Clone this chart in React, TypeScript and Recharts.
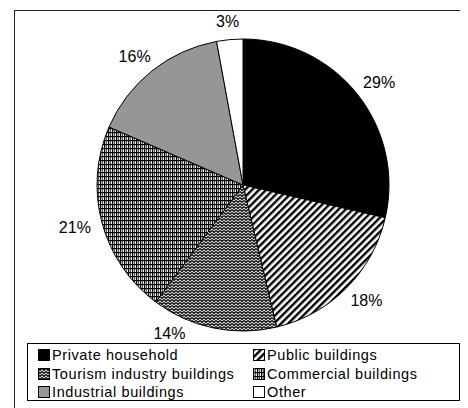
import React from "react";
import { PieChart, Pie, Cell, Legend } from "recharts";

const categories = [
  "Private household",
  "Public buildings",
  "Tourism industry buildings",
  "Commercial buildings",
  "Industrial buildings",
  "Other",
];
const shares = [28.6, 17.7, 13.9, 21.3, 15.6, 2.9];
const fills = [
  "#000000",
  "url(#patPublic)",
  "url(#patTourism)",
  "url(#patCommercial)",
  "#969696",
  "#ffffff",
];

const data = categories.map((name, i) => ({ name, value: shares[i] }));

const FONT = "'Liberation Sans', Arial, sans-serif";
const RAD = Math.PI / 180;
// angular nudge (degrees, clockwise) for labels that would collide with the legend
const labelAngleNudge = [0, 0, 13.3, 0, 0, 0];

const renderLabel = (props: any) => {
  const { cx, cy, midAngle, outerRadius, value, index } = props;
  const a = midAngle - (labelAngleNudge[index] || 0);
  const dx = Math.cos(-a * RAD);
  const dy = Math.sin(-a * RAD);
  const r = outerRadius + 12;
  const text = `${Math.round(value)}%`;
  const w = (text.length - 1) * 8.9 + 14.2;
  const x = cx + r * dx + dx * (w / 2);
  const y = cy + r * dy + dy * 6;
  return (
    <text
      x={x}
      y={y}
      textAnchor="middle"
      dominantBaseline="central"
      fontFamily={FONT}
      fontSize={16}
      fill="#000"
    >
      {text}
    </text>
  );
};

const LegendContent = () => (
  <div
    style={{
      width: 433,
      height: 58,
      border: "1px solid #000",
      boxSizing: "border-box",
      position: "relative",
      fontFamily: FONT,
      fontSize: 14.5,
      letterSpacing: 0.6,
      color: "#000",
      background: "#fff",
    }}
  >
    {categories.map((c, i) => {
      const col = i % 2;
      const row = Math.floor(i / 2);
      return (
        <div
          key={c}
          style={{
            position: "absolute",
            left: col === 0 ? 10 : 225,
            top: 2 + row * 18.5,
            height: 18,
            display: "flex",
            alignItems: "center",
            whiteSpace: "nowrap",
          }}
        >
          <svg width={12} height={12} style={{ marginRight: 2 }}>
            <rect x={0.5} y={0.5} width={11} height={11} fill={fills[i]} stroke="#000" strokeWidth={1} />
          </svg>
          <span>{c}</span>
        </div>
      );
    })}
  </div>
);

export default function App() {
  return (
    <div style={{ position: "relative", width: 460, height: 400, overflow: "hidden", background: "#fff" }}>
      <div
        style={{
          position: "absolute",
          left: 6,
          top: 2,
          width: 500,
          height: 500,
          borderLeft: "1px solid #222",
          borderTop: "1.5px solid #222",
        }}
      />
      <PieChart width={460} height={400} style={{ position: "absolute", left: 0, top: 0 }}>
        <defs>
          <pattern id="patPublic" patternUnits="userSpaceOnUse" width={5} height={5} patternTransform="rotate(45)">
            <rect x={0} y={0} width={5} height={5} fill="#fff" />
            <rect x={0} y={0} width={2.4} height={5} fill="#000" />
          </pattern>
          <pattern id="patTourism" patternUnits="userSpaceOnUse" width={4} height={3}>
            <rect x={0} y={0} width={4} height={3} fill="#d8d8d8" />
            <path d="M0 0.5 L2 2.5 L4 0.5" stroke="#000" strokeWidth={1.1} fill="none" />
          </pattern>
          <pattern id="patCommercial" patternUnits="userSpaceOnUse" width={4} height={4}>
            <rect x={0} y={0} width={4} height={4} fill="#eee" />
            <rect x={0} y={0} width={1.2} height={4} fill="#000" />
            <rect x={0} y={0} width={4} height={1.2} fill="#000" />
            <rect x={2} y={1} width={1} height={3} fill="#555" />
          </pattern>
        </defs>
        <Pie
          data={data}
          dataKey="value"
          nameKey="name"
          cx={230}
          cy={172}
          outerRadius={146}
          startAngle={90}
          endAngle={-270}
          stroke="#000"
          strokeWidth={1}
          label={renderLabel}
          labelLine={false}
          isAnimationActive={false}
        >
          {data.map((d, i) => (
            <Cell key={d.name} fill={fills[i]} />
          ))}
        </Pie>
        <Legend
          content={<LegendContent />}
          wrapperStyle={{ position: "absolute", left: 19, top: 335, width: 433, height: 58 }}
        />
      </PieChart>
    </div>
  );
}
